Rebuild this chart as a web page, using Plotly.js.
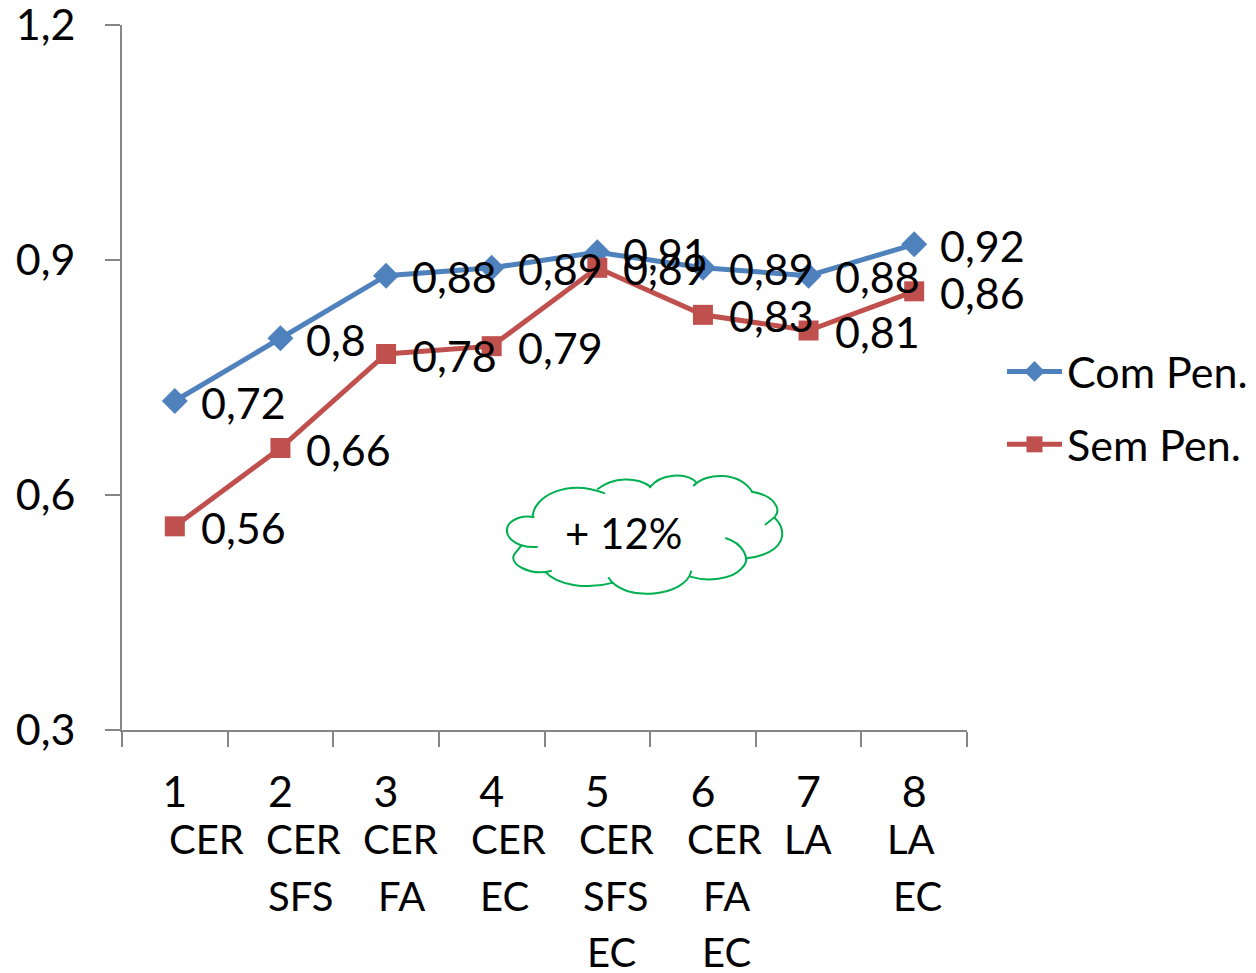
<!DOCTYPE html>
<html><head><meta charset="utf-8">
<script src="https://cdn.plot.ly/plotly-3.0.1.min.js"></script>
<style>html,body{margin:0;padding:0;background:#fff}#c{width:1256px;height:973px}</style></head>
<body><div id="c"></div>
<script>
const categories = ["1","2","3","4","5","6","7","8"];
const comPen = [0.72,0.80,0.88,0.89,0.91,0.89,0.88,0.92];
const semPen = [0.56,0.66,0.78,0.79,0.89,0.83,0.81,0.86];
const comLabels = ["0,72","0,8","0,88","0,89","0,91","0,89","0,88","0,92"];
const semLabels = ["0,56","0,66","0,78","0,79","0,89","0,83","0,81","0,86"];
const yTicks = [0.3,0.6,0.9,1.2];
const yTickText = ["0,3","0,6","0,9","1,2"];
const row1 = ["CER","CER","CER","CER","CER","CER","LA","LA"];
const row2 = ["","SFS","FA","EC","SFS","FA","","EC"];
const row3 = ["","","","","EC","EC","",""];
const row1X = [206,303,400,508,616,724,808,911];
const row2X = [0,300,401,504,615,726,0,917];
const row3X = [0,0,0,0,611,726,0,0];
const cloudNote = "+ 12%";

const W=1256,H=973,L=122,R=967,T=25,B=730;
const FONT="Lato, Carlito, Calibri, sans-serif", FS=43, SUB=40;
const px=x=>(x-L)/(R-L), py=y=>(B-y)/(B-T);
const cloudArcs=[
 "M128,170 C130,110 230,55 345,100",
 "M322,88 C370,50 440,50 482,80",
 "M478,84 C510,40 590,35 622,70",
 "M610,78 C650,35 750,35 788,98",
 "M785,95 C850,105 875,145 855,170 L825,195",
 "M852,172 C895,210 890,280 770,295",
 "M706,234 C760,250 785,300 755,325 C725,360 650,365 600,350",
 "M604,332 C590,410 400,430 355,352",
 "M370,368 C290,390 200,375 165,335",
 "M185,332 C120,350 50,310 75,280 L95,255",
 "M143,261 C70,265 40,225 55,195 C70,175 100,165 133,172"
];
// the crops were read at 3x with origin (490,460)
const toPaper=s=>s.replace(/(-?\d+),(-?\d+)/g,(m,a,b)=>px(490+a/3).toFixed(4)+","+py(460+b/3).toFixed(4));
const shapes=cloudArcs.map(p=>({type:"path",xref:"paper",yref:"paper",path:toPaper(p),line:{color:"#00b050",width:2}}));

const annotations=[];
const dataLabel=(i,y,t)=>annotations.push({x:i,y:y,xref:"x",yref:"y",text:t,showarrow:false,xanchor:"left",yanchor:"middle",xshift:24,yshift:-1,font:{family:FONT,size:FS,color:"#000"}});
comPen.forEach((v,i)=>dataLabel(i,v,comLabels[i]));
semPen.forEach((v,i)=>dataLabel(i,v,semLabels[i]));
const rowLabel=(t,x,y,s)=>{if(t)annotations.push({x:px(x),y:py(y),xref:"paper",yref:"paper",text:t,showarrow:false,xanchor:"center",yanchor:"middle",font:{family:FONT,size:s||SUB,color:"#000"}});};
row1.forEach((t,i)=>rowLabel(t,row1X[i],839));
row2.forEach((t,i)=>rowLabel(t,row2X[i],896));
row3.forEach((t,i)=>rowLabel(t,row3X[i],952));
rowLabel(cloudNote,624,533,42);

const traces=[
 {x:categories,y:comPen,name:"Com Pen.",legendgroup:"a",mode:"lines+markers",line:{color:"#4f81bd",width:5},marker:{symbol:"diamond",size:20,color:"#4f81bd"}},
 {x:categories,y:semPen,name:"Sem Pen.",legendgroup:"b",mode:"lines+markers",line:{color:"#c0504d",width:5},marker:{symbol:"square",size:20,color:"#c0504d"}}
];
const layout={
 width:W,height:H,margin:{l:L,r:W-R,t:T,b:H-B,pad:0},
 paper_bgcolor:"#fff",plot_bgcolor:"#fff",
 font:{family:FONT,size:FS,color:"#000"},
 showlegend:true,
 legend:{xref:"container",yref:"container",x:1002/W,y:1-408/H,xanchor:"left",yanchor:"middle",traceorder:"grouped",tracegroupgap:14,itemwidth:55,font:{family:FONT,size:FS,color:"#000"},bgcolor:"rgba(0,0,0,0)"},
 xaxis:{type:"category",range:[-0.5,7.5],tickson:"boundaries",ticks:"outside",ticklen:15,tickwidth:2,tickcolor:"#868686",showline:true,linecolor:"#868686",linewidth:2,showgrid:false,zeroline:false,ticklabelstandoff:23,ticklabeloverflow:"allow",tickfont:{family:FONT,size:FS,color:"#000"}},
 yaxis:{range:[0.3,1.2],tickmode:"array",tickvals:yTicks,ticktext:yTickText,ticks:"outside",ticklen:15,tickwidth:2,tickcolor:"#868686",showline:true,linecolor:"#868686",linewidth:2,showgrid:false,zeroline:false,ticklabelstandoff:21,ticklabeloverflow:"allow",tickfont:{family:FONT,size:FS,color:"#000"}},
 shapes:shapes,annotations:annotations
};
Plotly.newPlot("c",traces,layout,{displayModeBar:false,responsive:false});
</script></body></html>
